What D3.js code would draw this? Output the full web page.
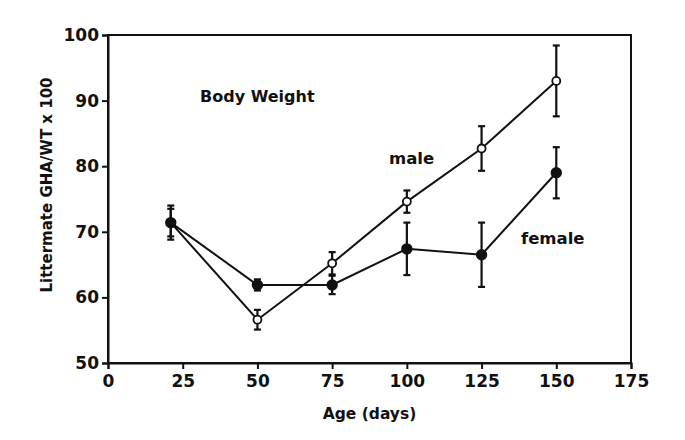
<!DOCTYPE html>
<html>
<head>
<meta charset="utf-8">
<script src="https://cdn.jsdelivr.net/npm/d3@7"></script>
<style>
  html, body { margin: 0; padding: 0; background: #fff; }
  svg { display: block; }
  text { font-family: "DejaVu Sans", sans-serif; font-weight: bold; fill: #111; }
</style>
</head>
<body>
<svg id="chart" width="685" height="440"></svg>
<script>
const ages = [21, 50, 75, 100, 125, 150];
const maleMean = [71.4, 56.6, 65.2, 74.6, 82.7, 93.0];
const maleErr = [2.6, 1.5, 1.7, 1.7, 3.4, 5.4];
const femaleMean = [71.4, 61.9, 61.9, 67.4, 66.5, 79.0];
const femaleErr = [2.1, 0.85, 1.4, 4.0, 4.9, 3.9];
const xTicks = [0, 25, 50, 75, 100, 125, 150, 175];
const yTicks = [50, 60, 70, 80, 90, 100];

const svg = d3.select("#chart");
const m = {left: 108, top: 35, right: 685 - 631, bottom: 440 - 363};
const W = 685 - m.left - m.right, H = 440 - m.top - m.bottom;
const g = svg.append("g").attr("transform", `translate(${m.left},${m.top})`);

const x = d3.scaleLinear().domain([0, 175]).range([0, W]);
const y = d3.scaleLinear().domain([50, 100]).range([H, 0]);

// frame
g.append("rect").attr("x", 0).attr("y", 0).attr("width", W).attr("height", H)
  .attr("fill", "none").attr("stroke", "#111").attr("stroke-width", 2);

const xAxis = g.append("g").attr("transform", `translate(0,${H})`)
  .call(d3.axisBottom(x).tickValues(xTicks).tickSize(6).tickPadding(6).tickFormat(d3.format("d")));
const yAxis = g.append("g")
  .call(d3.axisLeft(y).tickValues(yTicks).tickSize(6).tickPadding(3).tickFormat(d3.format("d")));
[xAxis, yAxis].forEach(a => {
  a.select(".domain").attr("stroke", "#111").attr("stroke-width", 2);
  a.selectAll(".tick line").attr("stroke", "#111").attr("stroke-width", 2);
  a.selectAll(".tick text").attr("fill", "#111").style("font-size", "17px")
   .style("font-family", "DejaVu Sans").style("font-weight", "bold");
});

const series = [
  {mean: maleMean, err: maleErr, fill: "#fff"},
  {mean: femaleMean, err: femaleErr, fill: "#111"}
];

const line = d3.line().x(d => x(d[0])).y(d => y(d[1]));
series.forEach(s => {
  const pts = ages.map((a, i) => [a, s.mean[i]]);
  g.append("path").datum(pts).attr("d", line).attr("fill", "none")
    .attr("stroke", "#111").attr("stroke-width", 2);
});
series.forEach(s => {
  ages.forEach((a, i) => {
    const cx = x(a), y1 = y(s.mean[i] + s.err[i]), y2 = y(s.mean[i] - s.err[i]);
    g.append("line").attr("x1", cx).attr("x2", cx).attr("y1", y1).attr("y2", y2)
      .attr("stroke", "#111").attr("stroke-width", 2.2);
    [y1, y2].forEach(yy => g.append("line").attr("x1", cx - 3.5).attr("x2", cx + 3.5)
      .attr("y1", yy).attr("y2", yy).attr("stroke", "#111").attr("stroke-width", 2.2));
  });
});
series.forEach(s => {
  ages.forEach((a, i) => {
    g.append("circle").attr("cx", x(a)).attr("cy", y(s.mean[i]))
      .attr("r", s.fill === "#fff" ? 4 : 4.8)
      .attr("fill", s.fill).attr("stroke", "#111").attr("stroke-width", 1.8);
  });
});

// annotations
svg.append("text").attr("x", 200).attr("y", 102).style("font-size", "16px").text("Body Weight");
svg.append("text").attr("x", 389).attr("y", 164).style("font-size", "16.5px").text("male");
svg.append("text").attr("x", 521).attr("y", 244).style("font-size", "16.5px").text("female");

svg.append("text").attr("x", m.left + W / 2).attr("y", 419).attr("text-anchor", "middle")
  .style("font-size", "15.5px").text("Age (days)");
svg.append("text").attr("transform", `translate(52,185) rotate(-90)`)
  .attr("text-anchor", "middle").style("font-size", "15px").text("Littermate GHA/WT x 100");
</script>
</body>
</html>
